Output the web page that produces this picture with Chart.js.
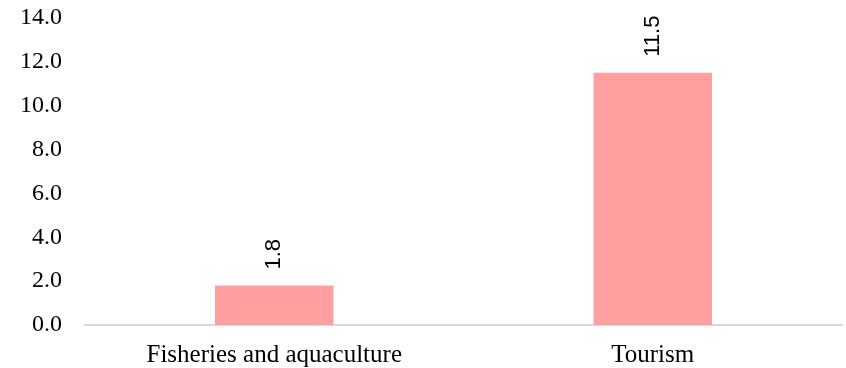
<!DOCTYPE html>
<html>
<head>
<meta charset="utf-8">
<script src="https://cdn.jsdelivr.net/npm/chart.js@4/dist/chart.umd.min.js"></script>
<style>
  html, body { margin: 0; padding: 0; background: #fff; }
  #wrap { width: 846px; height: 368px; }
</style>
</head>
<body>
<div id="wrap"><canvas id="sectorChart"></canvas></div>
<script>
// Sector values
const categories = ['Fisheries and aquaculture', 'Tourism'];
const values = [1.8, 11.5];
const yTicks = [0, 2, 4, 6, 8, 10, 12, 14];

const barColor = '#FF9F9F';

// Vertical value labels above each bar
const barLabels = {
    id: 'barLabels',
    afterDatasetsDraw(chart) {
        const ctx = chart.ctx;
        const meta = chart.getDatasetMeta(0);
        ctx.save();
        ctx.fillStyle = '#000';
        ctx.font = '22px "Liberation Sans", Arial, sans-serif';
        ctx.textAlign = 'left';
        ctx.textBaseline = 'middle';
        meta.data.forEach((bar, i) => {
            ctx.save();
            ctx.translate(bar.x, bar.y - 16);
            ctx.rotate(-Math.PI / 2);
            ctx.fillText(values[i].toFixed(1), 0, 0);
            ctx.restore();
        });
        ctx.restore();
    }
};

new Chart(document.getElementById('sectorChart'), {
    type: 'bar',
    data: {
        labels: categories,
        datasets: [{
            data: values,
            backgroundColor: barColor,
            borderWidth: 0,
            barPercentage: 0.313,
            categoryPercentage: 1
        }]
    },
    options: {
        responsive: true,
        maintainAspectRatio: false,
        animation: false,
        layout: { padding: { top: 18, right: 4, left: 0, bottom: 0 } },
        plugins: {
            legend: { display: false },
            tooltip: { enabled: false }
        },
        scales: {
            x: {
                grid: { display: false, drawTicks: false },
                border: { color: '#D9D9D9', width: 2 },
                afterFit(axis) {
                    axis.height = 43;
                },
                ticks: {
                    color: '#000',
                    padding: 17,
                    font: { family: '"Liberation Serif", serif', size: 25, lineHeight: 1.04 }
                }
            },
            y: {
                min: 0,
                max: 14,
                afterBuildTicks(axis) {
                    axis.ticks = yTicks.map(v => ({ value: v }));
                },
                // fixed gutter; top tick label may overhang the plot area
                afterFit(axis) {
                    axis.width = 85;
                    axis.paddingTop = 0;
                    axis.paddingBottom = 0;
                },
                grid: { display: false, drawTicks: false },
                border: { display: false },
                ticks: {
                    color: '#000',
                    padding: 23,
                    font: { family: '"Liberation Serif", serif', size: 24 },
                    callback: v => Number(v).toFixed(1)
                }
            }
        }
    },
    plugins: [barLabels]
});
</script>
</body>
</html>
